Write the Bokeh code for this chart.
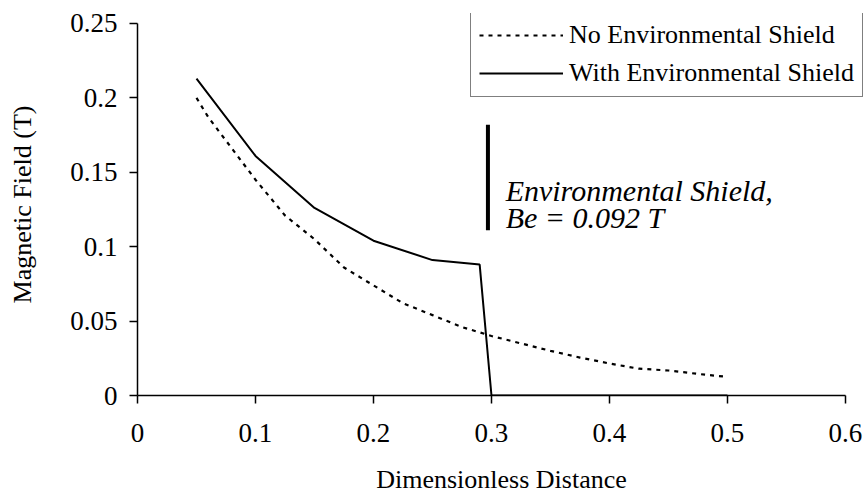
from bokeh.plotting import figure
from bokeh.models import Range1d, FixedTicker, CustomJSTickFormatter, Legend, LegendItem, Label
from bokeh.embed import file_html
from bokeh.resources import INLINE

# ---- data ----
x_no_shield = [0.05, 0.06, 0.1, 0.125, 0.15, 0.175, 0.2, 0.225, 0.25, 0.275, 0.3,
               0.325, 0.35, 0.375, 0.4, 0.425, 0.45, 0.475, 0.5]
y_no_shield = [0.200, 0.187, 0.145, 0.121, 0.105, 0.086, 0.074, 0.062, 0.054, 0.046, 0.040,
               0.035, 0.030, 0.0255, 0.0215, 0.018, 0.0168, 0.0145, 0.0125]

x_with_shield = [0.05, 0.1, 0.15, 0.2, 0.25, 0.29, 0.3, 0.35, 0.4, 0.45, 0.5]
y_with_shield = [0.213, 0.161, 0.126, 0.104, 0.091, 0.088, 0.0, 0.0, 0.0, 0.0, 0.0]

x_ticks = [0, 0.1, 0.2, 0.3, 0.4, 0.5, 0.6]
y_ticks = [0, 0.05, 0.1, 0.15, 0.2, 0.25]

shield_x = [0.297, 0.297]
shield_y = [0.111, 0.182]

series_labels = ["No Environmental Shield", "With Environmental Shield"]
note_lines = ["Environmental Shield,", "Be = 0.092 T"]

FONT = "Liberation Serif"

# axes span 0..0.6 and 0..0.25; the frame is a little larger so the legend box fits
p = figure(width=865, height=496, x_range=Range1d(0, 0.617), y_range=Range1d(0, 0.2567),
           output_backend="svg", toolbar_location=None,
           min_border_left=137, min_border_right=0, min_border_top=13, min_border_bottom=100)
p.grid.visible = False
p.outline_line_color = None
p.background_fill_color = "white"
p.border_fill_color = "white"

fmt = CustomJSTickFormatter(code="return String(Number(tick.toFixed(4)));")
p.xaxis.ticker = FixedTicker(ticks=x_ticks)
p.yaxis.ticker = FixedTicker(ticks=y_ticks)
p.xaxis.bounds = (x_ticks[0], x_ticks[-1])
p.yaxis.bounds = (y_ticks[0], y_ticks[-1])
for ax in (p.xaxis, p.yaxis):
    ax.formatter = fmt
    ax.axis_line_width = 1.5
    ax.axis_line_color = "black"
    ax.major_tick_line_width = 1.5
    ax.major_tick_line_color = "black"
    ax.major_tick_in = 0
    ax.major_tick_out = 8
    ax.minor_tick_out = 0
    ax.minor_tick_in = 0
    ax.major_label_text_font = FONT
    ax.major_label_text_font_size = "27px"
    ax.major_label_text_color = "black"
    ax.axis_label_text_font = FONT
    ax.axis_label_text_font_size = "26px"
    ax.axis_label_text_font_style = "normal"
    ax.axis_label_text_color = "black"

p.xaxis.axis_label = "Dimensionless Distance"
p.yaxis.axis_label = "Magnetic Field (T)"
p.xaxis.major_label_standoff = 20
p.yaxis.major_label_standoff = 12
p.xaxis.axis_label_standoff = 20
p.yaxis.axis_label_standoff = 30

r_no = p.line(x_no_shield, y_no_shield, line_color="black", line_width=2.2, line_dash="4 5")
r_with = p.line(x_with_shield, y_with_shield, line_color="black", line_width=2)

# shield marker bar
p.line(shield_x, shield_y, line_color="black", line_width=4)

p.add_layout(Label(x=0.312, y=0.138, text=note_lines[0], text_font=FONT, text_font_size="30px",
                   text_font_style="italic", text_color="black", text_baseline="alphabetic"))
p.add_layout(Label(x=0.312, y=0.1193, text=note_lines[1], text_font=FONT, text_font_size="30px",
                   text_font_style="italic", text_color="black", text_baseline="alphabetic"))

legend = Legend(items=[LegendItem(label=series_labels[0], renderers=[r_no]),
                       LegendItem(label=series_labels[1], renderers=[r_with])],
                location=(333, 298), margin=0, padding=8, spacing=8,
                glyph_width=84, glyph_height=30, label_standoff=6,
                label_text_font=FONT, label_text_font_size="26px", label_text_color="black",
                border_line_color="black", border_line_width=1.5,
                background_fill_color="white", background_fill_alpha=1)
p.add_layout(legend)

open("out.html", "w").write(file_html(p, INLINE))
